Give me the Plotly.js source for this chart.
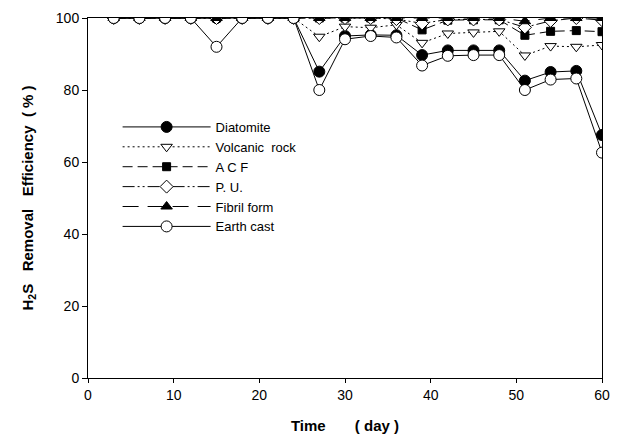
<!DOCTYPE html>
<html>
<head>
<meta charset="utf-8">
<script src="https://cdn.plot.ly/plotly-3.0.1.min.js"></script>
<style>html,body{margin:0;padding:0;background:#fff;}#chart{width:620px;height:438px;}</style>
</head>
<body>
<div id="chart"></div>
<script>
var days = [3,6,9,12,15,18,21,24,27,30,33,36,39,42,45,48,51,54,57,60];
var diatomite = [100,100,100,100,100,100,100,100,85.1,95,95.3,95.2,89.7,91,91,91,82.6,85,85.3,67.5];
var volcanicRock = [100,100,100,100,100,100,100,100,94.8,97.6,97.3,98.1,93.1,95.7,96,96.3,89.6,92.2,92,92.5];
var acf = [100,100,100,100,100,100,100,100,100,100,100,100,96.7,99.4,99.5,99.5,95.2,96.3,96.5,96.2];
var pu = [100,100,100,100,100,100,100,100,100,100,100,99.7,98.5,99.6,99.6,99.6,97.4,99.2,100,99.4];
var fibrilForm = [100,100,100,100,100,100,100,100,100,100,100,100,100,100,100,100,99.1,100,100,100];
var earthCast = [100,100,100,100,92,100,100,100,80,94.1,95,94.6,86.8,89.5,89.7,89.7,80,82.9,83.2,62.6];
var seriesNames = ["Diatomite","Volcanic\u00A0\u00A0rock","A C F","P. U.","Fibril form","Earth cast"];
var xTicks = [0,10,20,30,40,50,60];
var yTicks = [0,20,40,60,80,100];

var FONT = "Arial, 'Liberation Sans', sans-serif";
function tr(name, y, dash, symbol, fill, size) {
  return {
    x: days, y: y, name: name, type: "scatter", mode: "lines+markers",
    line: {color: "#000", width: 1, dash: dash},
    marker: {symbol: symbol, size: size, color: fill, line: {color: "#000", width: 1}}
  };
}
var traces = [
  tr(seriesNames[0], diatomite, "solid", "circle", "#000", 11),
  tr(seriesNames[1], volcanicRock, "2px,3px", "triangle-down", "#fff", 10),
  tr(seriesNames[2], acf, "10px,5px", "square", "#000", 8),
  tr(seriesNames[3], pu, "12px,3px,2px,3px,2px,3px", "diamond", "#fff", 10),
  tr(seriesNames[4], fibrilForm, "16px,9px", "triangle-up", "#000", 10),
  tr(seriesNames[5], earthCast, "solid", "circle", "#fff", 11)
];

var layout = {
  width: 620, height: 438,
  margin: {l: 88, r: 18, t: 18, b: 60},
  paper_bgcolor: "#fff", plot_bgcolor: "#fff",
  font: {family: FONT, size: 14, color: "#000"},
  showlegend: true,
  legend: {
    x: 0.0576, y: 0.739, xanchor: "left", yanchor: "top",
    bgcolor: "rgba(0,0,0,0)", borderwidth: 0,
    itemwidth: 88, tracegroupgap: 0,
    font: {family: FONT, size: 13, color: "#000"}
  },
  xaxis: {
    range: [0, 60], tickvals: xTicks, ticks: "outside", ticklen: 4, tickcolor: "#000",
    showline: true, mirror: true, linecolor: "#000", linewidth: 1,
    showgrid: false, zeroline: false,
    tickfont: {family: FONT, size: 14, color: "#000"},
    title: {text: "<b>Time\u00A0\u00A0\u00A0\u00A0\u00A0\u00A0\u00A0( day )</b>", font: {family: FONT, size: 15, color: "#000"}, standoff: 18}
  },
  yaxis: {
    range: [0, 100], tickvals: yTicks, ticks: "outside", ticklen: 5, tickcolor: "#000",
    showline: true, mirror: true, linecolor: "#000", linewidth: 1,
    showgrid: false, zeroline: false,
    tickfont: {family: FONT, size: 14, color: "#000"},
    title: {text: "<b>H<sub>2</sub>S\u00A0\u00A0\u00A0Removal\u00A0\u00A0\u00A0Efficiency\u00A0\u00A0( % )</b>", font: {family: FONT, size: 15, color: "#000"}, standoff: 18}
  }
};
Plotly.newPlot("chart", traces, layout, {staticPlot: true, displayModeBar: false});
</script>
</body>
</html>
